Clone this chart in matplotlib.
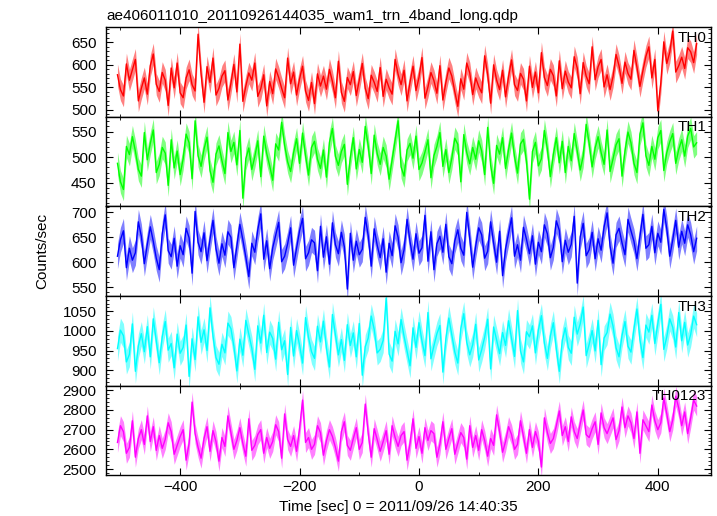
import numpy as np
import matplotlib
matplotlib.use('Agg')
import matplotlib.pyplot as plt
from matplotlib.ticker import MultipleLocator

plt.rcParams['font.family'] = ['Liberation Sans', 'DejaVu Sans']
plt.rcParams['font.size'] = 11

# Light curve from the qdp file (5 s steps)
title = 'ae406011010_20110926144035_wam1_trn_4band_long.qdp'
t_start = -505
t_step = 5

bands = ['TH0', 'TH1', 'TH2', 'TH3', 'TH0123']
colors = ['#ff0000', '#00ff00', '#0000ff', '#00ffff', '#ff00ff']
errors = [24, 22, 25, 31, 51]

th0 = [578, 545, 531, 602, 566, 589, 612, 520, 548, 571,
       535, 598, 624, 557, 541, 583, 566, 510, 593, 549,
       604, 538, 527, 571, 589, 556, 542, 668, 580, 517,
       596, 561, 615, 533, 548, 575, 587, 522, 559, 601,
       540, 646, 519, 553, 582, 566, 604, 530, 547, 578,
       509, 563, 536, 591, 572, 548, 527, 615, 558, 584,
       533, 569, 597, 542, 521, 561, 514, 580, 553, 575,
       546, 590, 563, 527, 608, 539, 519, 572, 556, 585,
       532, 566, 603, 548, 525, 577, 561, 541, 594, 530,
       568, 549, 535, 612, 579, 556, 588, 520, 562, 597,
       543, 572, 616, 526, 551, 583, 565, 537, 598, 522,
       561, 593, 575, 540, 508, 569, 546, 604, 582, 534,
       571, 552, 538, 620, 579, 515, 600, 566, 545, 588,
       529, 574, 611, 556, 543, 581, 568, 520, 597, 550,
       584, 538, 627, 572, 554, 590, 576, 531, 609, 547,
       586, 562, 549, 618, 593, 536, 605, 575, 558, 640,
       567, 596, 612, 551, 578, 545, 574, 623, 598, 559,
       606, 581, 568, 632, 595, 552, 587, 619, 640, 571,
       612, 498, 560, 651, 603, 628, 675, 584, 598, 617,
       592, 638, 629, 605, 647]

th1 = [488, 452, 437, 521, 505, 540, 512, 476, 463, 548,
       495, 527, 553, 470, 486, 519, 508, 445, 534, 479,
       512, 466, 497, 545, 528, 458, 571, 503, 482, 516,
       539, 474, 451, 506, 522, 493, 468, 548, 511, 529,
       485, 552, 420, 497, 518, 476, 501, 532, 462, 541,
       507, 483, 455, 526, 514, 568, 523, 491, 472, 509,
       536, 488, 547, 503, 465, 519, 531, 496, 478, 514,
       461, 529, 556, 502, 484, 511, 525, 447, 499, 538,
       477, 515, 490, 560, 522, 468, 543, 507, 486, 519,
       502, 457, 495, 533, 571, 481, 463, 514, 527, 498,
       541, 476, 489, 510, 534, 460, 503, 521, 548, 482,
       515, 470, 498, 537, 525, 452, 544, 509, 487, 519,
       496, 532, 512, 466, 558, 484, 449, 523, 506, 538,
       478, 515, 547, 501, 469, 526, 535, 492, 418, 511,
       529, 483, 497, 552, 516, 462, 505, 538, 489, 531,
       470, 521, 493, 546, 512, 475, 502, 564, 527, 481,
       518, 540, 509, 486, 553, 472, 497, 524, 536, 463,
       512, 549, 528, 488, 470, 545, 567, 503, 484, 521,
       496, 538, 552, 474, 509, 530, 546, 488, 515, 534,
       502, 541, 556, 520, 528]

th2 = [612, 645, 663, 589, 628, 604, 619, 681, 652, 597,
       636, 671, 642, 608, 585, 657, 695, 623, 611, 648,
       592, 633, 615, 668, 649, 578, 702, 640, 621, 659,
       603, 646, 684, 627, 598, 637, 614, 661, 650, 589,
       632, 676, 645, 610, 571, 638, 620, 665, 697, 606,
       643, 587, 629, 654, 680, 601, 612, 637, 669, 594,
       628, 663, 688, 607, 619, 645, 639, 583, 672, 610,
       651, 596, 679, 635, 617, 660, 631, 546, 658, 604,
       642, 615, 626, 690, 653, 592, 667, 634, 609, 647,
       580, 638, 613, 673, 650, 599, 625, 686, 641, 606,
       657, 618, 629, 694, 602, 661, 585, 637, 652, 620,
       676, 611, 597, 643, 665, 628, 614, 700, 648, 590,
       633, 669, 655, 608, 622, 681, 638, 600, 662, 573,
       627, 658, 689, 612, 635, 604, 670, 646, 617, 653,
       596, 640, 621, 675, 657, 609, 630, 683, 664, 601,
       644, 620, 636, 692, 558, 651, 678, 613, 625, 660,
       607, 647, 624, 671, 699, 632, 598, 655, 668, 639,
       615, 686, 663, 642, 607, 651, 696, 628, 635, 672,
       619, 658, 640, 706, 667, 612, 645, 684, 630, 662,
       638, 675, 655, 621, 648]

th3 = [955, 1002, 988, 921, 940, 1018, 897, 962, 993, 947,
       1011, 934, 1031, 976, 919, 985, 1024, 951, 968, 906,
       992, 943, 958, 1015, 884, 980, 927, 1036, 971, 1003,
       950, 1059, 987, 932, 915, 966, 944, 1020, 1006, 961,
       898, 979, 938, 1027, 991, 956, 902, 1013, 969, 1040,
       945, 997, 981, 928, 1022, 952, 975, 889, 1009, 936,
       1001, 964, 918, 1034, 983, 947, 930, 1012, 972, 1025,
       956, 908, 1042, 990, 939, 978, 925, 1016, 963, 995,
       934, 1019, 887, 960, 982, 1038, 1004, 944, 953, 976,
       1084, 941, 923, 999, 967, 1029, 986, 948, 911, 1008,
       958, 1021, 974, 937, 1047, 929, 962, 993, 1014, 895,
       980, 1033, 989, 946, 918, 1006, 1044, 971, 939, 965,
       1017, 926, 952, 984, 1030, 903, 1010, 977, 942, 996,
       963, 1026, 981, 935, 1052, 949, 921, 998, 985, 1013,
       944, 1003, 1039, 969, 930, 987, 1021, 954, 897, 976,
       1008, 958, 943, 1035, 992, 1018, 1061, 937, 966, 1001,
       949, 1027, 914, 982, 996, 1043, 1012, 957, 934, 988,
       1024, 961, 946, 1005, 1056, 978, 932, 1015, 997, 1040,
       968, 1019, 1068, 953, 985, 1031, 1009, 959, 1047, 975,
       1022, 964, 991, 1038, 1016]

th0123 = [2635, 2720, 2690, 2580, 2610, 2745, 2560, 2655, 2700, 2625,
          2770, 2640, 2715, 2595, 2670, 2605, 2650, 2735, 2690, 2575,
          2620, 2665, 2700, 2545, 2630, 2840, 2680, 2610, 2555, 2655,
          2715, 2590, 2695, 2640, 2540, 2660, 2615, 2770, 2685, 2600,
          2645, 2710, 2630, 2565, 2755, 2595, 2620, 2675, 2700, 2580,
          2660, 2605, 2640, 2725, 2690, 2555, 2780, 2650, 2615, 2670,
          2590, 2705, 2850, 2635, 2660, 2600, 2625, 2720, 2685, 2570,
          2645, 2700, 2665, 2610, 2540, 2690, 2740, 2620, 2595, 2655,
          2710, 2600, 2635, 2830, 2680, 2560, 2705, 2650, 2590, 2640,
          2695, 2575, 2720, 2660, 2615, 2670, 2690, 2545, 2630, 2755,
          2605, 2665, 2580, 2710, 2645, 2695, 2680, 2560, 2625, 2740,
          2600, 2655, 2705, 2575, 2630, 2685, 2660, 2550, 2720, 2610,
          2670, 2595, 2700, 2645, 2565, 2655, 2620, 2775, 2690, 2585,
          2640, 2715, 2675, 2600, 2625, 2745, 2665, 2580, 2700, 2610,
          2690, 2640, 2510, 2760, 2685, 2630, 2655, 2720, 2795, 2670,
          2715, 2640, 2765, 2690, 2655, 2730, 2800, 2675, 2660, 2705,
          2740, 2625, 2785, 2710, 2680, 2720, 2760, 2650, 2695, 2815,
          2710, 2770, 2735, 2655, 2790, 2580, 2750, 2720, 2690, 2825,
          2745, 2700, 2735, 2860, 2780, 2690, 2750, 2870, 2810, 2720,
          2790, 2680, 2760, 2850, 2820]

series = [th0, th1, th2, th3, th0123]

# y ranges and tick spacing of each panel as qdp drew them
ylims = [(485, 684), (404, 579), (532, 712), (860, 1089), (2467, 2923)]
ymajor = [50, 50, 50, 50, 100]
yminor = [10, 10, 10, 10, 20]

fig, axes = plt.subplots(5, 1, sharex=True, figsize=(7.17, 5.16), dpi=100)
fig.subplots_adjust(left=0.148, right=0.9916, top=0.9477, bottom=0.0785, hspace=0)

for ax, name, vals, c, err, yl, ma, mi in zip(axes, bands, series, colors, errors,
                                              ylims, ymajor, yminor):
    vals = np.array(vals)
    t = t_start + t_step * np.arange(len(vals))
    # error bars shown as a pale band behind the curve
    ax.fill_between(t, vals - err, vals + err, color=c, alpha=0.5, lw=0)
    ax.plot(t, vals, color=c, lw=1.0)
    ax.set_ylim(*yl)
    ax.yaxis.set_major_locator(MultipleLocator(ma))
    ax.yaxis.set_minor_locator(MultipleLocator(mi))
    ax.text(0.992, 0.96, name, transform=ax.transAxes, ha='right', va='top')
    ax.tick_params(which='both', direction='in', top=True, right=True)
    ax.tick_params(which='major', length=5, width=0.8, labelsize=11)
    ax.tick_params(axis='y', which='major', pad=7)
    ax.tick_params(which='minor', length=2.5, width=0.6)
    for s in ax.spines.values():
        s.set_linewidth(1.0)

axes[-1].set_xlim(-524, 489)
axes[-1].xaxis.set_major_locator(MultipleLocator(200))
axes[-1].xaxis.set_minor_locator(MultipleLocator(100))

fig.text(0.149, 0.962, title, ha='left', va='baseline', fontsize=11)
fig.text(0.555, 0.01, 'Time [sec] 0 = 2011/09/26 14:40:35', ha='center', va='baseline')
fig.text(0.059, 0.514, 'Counts/sec', rotation=90, ha='center', va='center')

plt.savefig('out.png', dpi=100)
plt.close()
